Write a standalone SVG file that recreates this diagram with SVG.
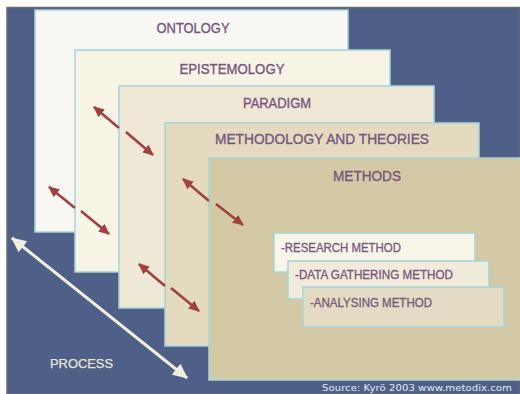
<svg xmlns="http://www.w3.org/2000/svg" width="520" height="394" viewBox="0 0 520 394">
  <style>
    .layer { stroke: #a6d3d9; stroke-width: 1.5; }
    .title { font-family: "Liberation Sans", Arial, sans-serif; font-size: 14.5px; fill: #77557e; stroke: #77557e; stroke-width: 0.35; text-anchor: middle; }
    .item { font-family: "Liberation Sans", Arial, sans-serif; font-size: 12.5px; fill: #77557e; stroke: #77557e; stroke-width: 0.3; }
    .link { stroke: #a04040; stroke-width: 2.6; fill: none; }
  </style>
  <defs>
    <marker id="head" markerUnits="userSpaceOnUse" markerWidth="12" markerHeight="10" refX="10" refY="5" orient="auto-start-reverse">
      <path d="M0,0 L11,5 L0,10 Z" fill="#a04040"/>
    </marker>
    <marker id="headLight" markerUnits="userSpaceOnUse" markerWidth="16" markerHeight="14" refX="14" refY="7" orient="auto-start-reverse">
      <path d="M0,0 L15,7 L0,14 Z" fill="#f3efe0"/>
    </marker>
  </defs>

  <!-- background and frame -->
  <rect x="0" y="0" width="520" height="394" fill="#ffffff"/>
  <rect x="7" y="7.5" width="513" height="386.5" fill="#4e6087" stroke="#6b6b6b" stroke-width="1.5"/>

  <!-- nested layers -->
  <g id="ontology">
    <rect class="layer" x="35" y="10" width="313" height="222" fill="#f8f7f4"/>
    <text class="title" x="193" y="33" textLength="73" lengthAdjust="spacingAndGlyphs">ONTOLOGY</text>
  </g>
  <g id="epistemology">
    <rect class="layer" x="75" y="50" width="315" height="222" fill="#f7f4e6"/>
    <text class="title" x="232" y="74" textLength="105" lengthAdjust="spacingAndGlyphs">EPISTEMOLOGY</text>
  </g>
  <g id="paradigm">
    <rect class="layer" x="119" y="86" width="315" height="222" fill="#efe8d6"/>
    <text class="title" x="277" y="108" textLength="68" lengthAdjust="spacingAndGlyphs">PARADIGM</text>
  </g>
  <g id="methodology">
    <rect class="layer" x="165" y="123" width="314" height="223" fill="#e3dac0"/>
    <text class="title" x="322" y="144" textLength="214" lengthAdjust="spacingAndGlyphs">METHODOLOGY AND THEORIES</text>
  </g>
  <g id="methods">
    <rect class="layer" x="209" y="158" width="313" height="222" fill="#d3caa5"/>
    <text class="title" x="367" y="181" textLength="68" lengthAdjust="spacingAndGlyphs">METHODS</text>
  </g>

  <!-- method cards -->
  <g id="research-method">
    <rect class="layer" x="274" y="233" width="201" height="39" fill="#f8f5e8"/>
    <text class="item" x="281" y="252" textLength="120" lengthAdjust="spacingAndGlyphs">-RESEARCH METHOD</text>
  </g>
  <g id="data-gathering-method">
    <rect class="layer" x="288" y="261" width="201" height="38" fill="#f0ebda"/>
    <text class="item" x="295" y="279" textLength="158" lengthAdjust="spacingAndGlyphs">-DATA GATHERING METHOD</text>
  </g>
  <g id="analysing-method">
    <rect class="layer" x="303" y="287" width="201" height="40" fill="#e3dbc3"/>
    <text class="item" x="310" y="307" textLength="122" lengthAdjust="spacingAndGlyphs">-ANALYSING METHOD</text>
  </g>

  <!-- two-way links across layer boundaries -->
  <g id="connectors">
    <line class="link" x1="119" y1="128" x2="94" y2="107" marker-end="url(#head)"/>
    <line class="link" x1="126" y1="132" x2="153" y2="155" marker-end="url(#head)"/>

    <line class="link" x1="75" y1="208" x2="49" y2="187" marker-end="url(#head)"/>
    <line class="link" x1="81" y1="211" x2="109" y2="234" marker-end="url(#head)"/>

    <line class="link" x1="209" y1="201" x2="183" y2="179" marker-end="url(#head)"/>
    <line class="link" x1="216" y1="204" x2="243" y2="225" marker-end="url(#head)"/>

    <line class="link" x1="165" y1="286" x2="139" y2="264" marker-end="url(#head)"/>
    <line class="link" x1="171" y1="288" x2="199" y2="311" marker-end="url(#head)"/>

    <line x1="12" y1="238" x2="187" y2="378" stroke="#f3efe0" stroke-width="3" marker-start="url(#headLight)" marker-end="url(#headLight)"/>
  </g>

  <text x="50" y="368" font-family="Liberation Sans, Arial, sans-serif" font-size="13.5" fill="#ece6d6" stroke="#ece6d6" stroke-width="0.25" textLength="63" lengthAdjust="spacingAndGlyphs">PROCESS</text>
  <text x="322" y="391" font-family="DejaVu Sans, Verdana, sans-serif" font-size="9.5" fill="#e8e8ee" textLength="190" lengthAdjust="spacingAndGlyphs">Source: Kyrö 2003 www.metodix.com</text>
</svg>
